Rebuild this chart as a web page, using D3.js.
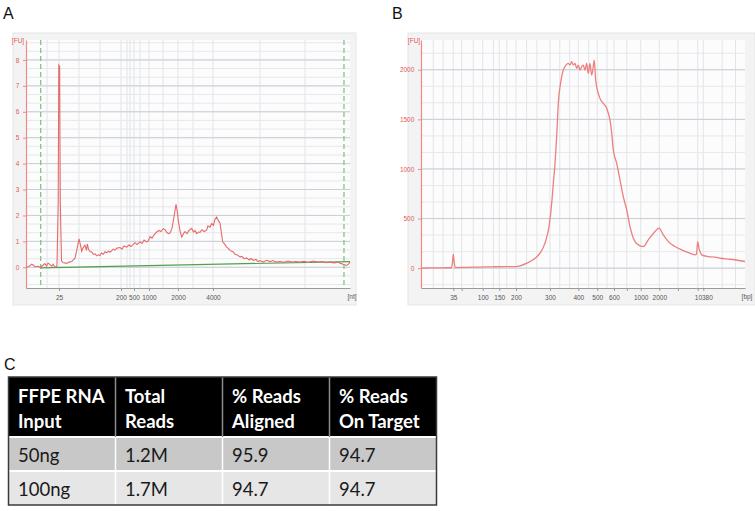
<!DOCTYPE html>
<html><head><meta charset="utf-8">
<script src="https://cdn.jsdelivr.net/npm/d3@7"></script>
<style>body{margin:0;background:#fff}svg{display:block}</style>
</head><body>
<script>
// ---------- Panel A (RNA electropherogram, x = migration time in s) ----------
const aTickLabels = ["25","200","500","1000","2000","4000"];
const aTickTimes  = [24.1, 33.66, 35.67, 37.98, 42.46, 47.86];
const aYTicks = [0,1,2,3,4,5,6,7,8];
const aGridTimes = [22.24, 24.1, 27.18, 30.42, 33.66, 34.59, 35.05, 35.67, 36.59, 37.98, 40.14, 42.46, 44.77, 47.86, 55.11, 62.06];
const aMarkerTimes = [21.27, 68.07];
const aTime = [19.0,19.46,19.88,20.16,20.39,20.85,21.16,21.62,21.93,22.16,22.40,22.70,22.97,23.17,23.48,23.78,23.97,24.06,24.19,24.29,24.48,24.71,25.28,25.64,26.05,26.56,26.87,27.18,27.41,27.60,27.80,28.10,28.33,28.46,28.64,28.88,29.11,29.39,29.65,29.91,30.19,30.42,30.65,30.93,31.19,31.45,31.73,31.96,32.47,32.73,33.04,33.51,33.81,34.12,34.54,34.90,35.20,35.56,35.82,36.13,36.60,36.91,37.22,37.63,37.83,38.14,38.45,38.75,39.17,39.52,39.83,40.19,40.45,40.71,40.99,41.22,41.53,41.84,42.15,42.38,42.50,42.77,43.03,43.31,43.54,43.85,44.15,44.57,44.85,45.08,45.34,45.62,45.85,46.15,46.47,46.88,47.08,47.40,47.66,47.93,48.16,48.42,48.70,48.94,49.17,49.35,49.63,49.97,50.25,50.48,50.99,51.25,51.56,52.03,52.33,52.64,53.06,53.41,53.72,54.08,54.49,54.80,55.11,55.57,56.15,56.65,57.12,57.58,58.20,58.81,59.43,60.05,60.67,61.28,61.90,62.52,63.34,64.07,64.68,65.30,65.92,66.54,67.15,67.46,67.93,68.49,68.77,69.0];
const aFU   = [0.0,0.03,0.12,0.08,0.02,0.04,0.0,0.08,0.14,0.05,0.16,0.1,0.04,0.12,0.0,0.04,2.5,7.8,7.75,2.5,0.25,0.18,0.15,0.2,0.22,0.35,0.7,1.1,0.85,0.62,0.75,0.85,0.65,0.9,0.7,0.6,0.6,0.5,0.52,0.44,0.48,0.45,0.55,0.5,0.6,0.56,0.62,0.58,0.7,0.66,0.74,0.76,0.7,0.82,0.78,0.86,0.8,0.88,0.95,0.88,0.98,0.92,1.05,0.98,1.0,1.18,1.12,1.25,1.36,1.42,1.38,1.49,1.45,1.35,1.3,1.32,1.5,1.95,2.43,2.1,1.8,1.4,1.17,1.3,1.38,1.3,1.42,1.5,1.36,1.42,1.3,1.36,1.35,1.45,1.38,1.43,1.6,1.55,1.69,1.62,1.85,1.94,1.8,1.7,1.3,0.98,0.9,0.78,0.72,0.65,0.59,0.5,0.48,0.4,0.42,0.33,0.36,0.28,0.34,0.27,0.3,0.22,0.26,0.2,0.27,0.22,0.26,0.2,0.22,0.19,0.24,0.2,0.22,0.2,0.23,0.19,0.24,0.2,0.22,0.18,0.2,0.17,0.2,0.16,0.12,0.07,0.12,0.2];
const aBaseTime = [21.3, 69.0];
const aBaseFU   = [-0.02, 0.22];

// ---------- Panel B (DNA library electropherogram) ----------
const bTickLabels = ["35","","100","150","200","300","400","500","600","","1000","2000","","","10380"];
const bTickTimes  = [48.47,50.67,56.19,60.54,64.92,73.84,81.27,86.25,90.63,94.0,97.64,102.52,107.4,112.6,114.06];
const bYTicks = [0,500,1000,1500,2000];
const bTime = [40.0,42.36,44.98,47.08,48.0,48.26,48.47,48.71,48.97,51.54,54.17,56.79,59.41,62.04,64.92,65.97,67.81,69.38,70.43,71.22,72.53,73.58,74.37,74.71,75.15,75.55,75.81,76.02,76.47,76.86,77.33,78.04,78.64,79.09,79.53,79.95,80.40,80.84,81.27,81.71,82.16,82.57,83.02,83.46,83.88,84.33,84.77,85.19,85.46,85.83,86.51,87.41,87.83,88.72,89.14,89.58,90.03,90.45,91.34,92.21,93.07,93.97,94.83,95.70,97.01,98.32,99.63,101.39,102.44,103.57,104.88,106.64,108.39,110.13,111.89,112.27,112.59,112.93,113.20,113.64,115.37,117.13,118.44,121.07,125.0];
const bFU   = [0,2,3,4,6,60,140,60,6,8,10,12,14,15,16,23,50,84,115,151,252,419,688,856,1050,1300,1500,1661,1829,1920,1997,2047,2064,2047,2081,2047,2064,2014,2047,1997,2030,2047,1997,2064,1964,2064,1947,2030,2098,1897,1762,1678,1661,1611,1561,1494,1360,1191,1057,889,721,587,419,302,235,218,285,369,403,335,268,218,184,157,134,140,268,200,167,134,117,111,100,90,67];
const bGridTimes = [43.2,45.8,48.47,50.67,53.7,56.19,59.0,60.54,62.5,64.92,67.7,70.4,73.84,76.4,79.0,81.27,84.0,86.25,88.8,90.63,94.0,97.64,102.52,107.4,112.6,114.06,119.0,122.5];

// ---------- Panel C (table) ----------
const tableHeader = [["FFPE RNA","Input"],["Total","Reads"],["% Reads","Aligned"],["% Reads","On Target"]];
const rnaInput   = ["50ng","100ng"];
const totalReads = ["1.2M","1.7M"];
const pctAligned = ["95.9","94.7"];
const pctOnTarget= ["94.7","94.7"];

const W = 755, H = 511;
const svg = d3.select("body").append("svg").attr("width", W).attr("height", H)
  .style("font-family", "'Liberation Sans', Arial, sans-serif");

function panel(cfg) {
  const g = svg.append("g");
  g.append("rect").attr("x", cfg.box[0]).attr("y", cfg.box[1]).attr("width", cfg.box[2]).attr("height", cfg.box[3])
    .attr("fill", "#f3f3f3").attr("stroke", "#e6e6e6");
  const x = d3.scaleLinear().domain(cfg.xDomain).range([cfg.left, cfg.right]);
  const y = d3.scaleLinear().domain(cfg.yDomain).range([cfg.bottom, cfg.top]);
  g.append("rect").attr("x", cfg.left).attr("y", cfg.top).attr("width", cfg.right - cfg.left).attr("height", cfg.bottom - cfg.top)
    .attr("fill", "#fcfcfc");
  g.selectAll(".vg").data(cfg.vGrid).join("line")
    .attr("x1", d => x(d)).attr("x2", d => x(d)).attr("y1", cfg.top).attr("y2", cfg.bottom)
    .attr("stroke", "#e2e4e8").attr("stroke-width", 1);
  g.selectAll(".hm").data(cfg.minorY).join("line")
    .attr("x1", cfg.left).attr("x2", cfg.right).attr("y1", d => y(d)).attr("y2", d => y(d))
    .attr("stroke", "#e6e8ec").attr("stroke-width", 1);
  g.selectAll(".hM").data(cfg.yTicks).join("line")
    .attr("x1", cfg.left).attr("x2", cfg.right).attr("y1", d => y(d)).attr("y2", d => y(d))
    .attr("stroke", "#c9ced6").attr("stroke-width", 1);
  const xa = g.append("g").attr("transform", `translate(0,${cfg.bottom})`)
    .call(d3.axisBottom(x).tickValues(cfg.xTicks).tickFormat((d, i) => cfg.xLabels[i]).tickSize(3).tickSizeOuter(0));
  xa.select(".domain").attr("stroke", "#9a9a9a");
  xa.selectAll(".tick line").attr("stroke", "#9a9a9a");
  xa.selectAll("text").attr("fill", "#555").attr("font-size", 6.5).attr("dy", "0.9em")
    .attr("font-family", "'Liberation Sans Narrow','Liberation Sans',sans-serif");
  g.append("text").attr("x", cfg.unitX).attr("y", cfg.bottom + 11).attr("text-anchor", "middle")
    .attr("font-size", 6.5).attr("fill", "#555").text(cfg.xUnit);
  const ya = g.append("g").attr("transform", `translate(${cfg.left},0)`)
    .call(d3.axisLeft(y).tickValues(cfg.yTicks).tickFormat(d3.format("d")).tickSize(3).tickSizeOuter(0));
  ya.select(".domain").attr("stroke", "#f08a8a").attr("stroke-width", 1.2);
  ya.selectAll(".tick line").attr("stroke", "#f08a8a");
  ya.selectAll("text").attr("fill", "#e05a5a").attr("font-size", 6.5).attr("dx", "-0.1em")
    .attr("font-family", "'Liberation Sans Narrow','Liberation Sans',sans-serif");
  g.append("text").attr("x", cfg.fuX).attr("y", cfg.top + 3).attr("text-anchor", "middle")
    .attr("font-size", 6.5).attr("fill", "#e05a5a").text("[FU]");
  return {g, x, y};
}

const A = panel({
  box: [13, 33, 343, 272], left: 26, right: 350, top: 40, bottom: 288,
  xDomain: [19, 69], yDomain: [-0.8, 8.77],
  vGrid: aGridTimes, yTicks: aYTicks, minorY: d3.range(-2, 27).map(i => i / 3),
  xTicks: aTickTimes, xLabels: aTickLabels, xUnit: "[nt]", unitX: 352, fuX: 18
});
A.g.selectAll(".mk").data(aMarkerTimes).join("line")
  .attr("x1", d => A.x(d)).attr("x2", d => A.x(d)).attr("y1", 40).attr("y2", 288)
  .attr("stroke", "#7cbf7c").attr("stroke-width", 1.2).attr("stroke-dasharray", "5,3");
A.g.append("path").datum(d3.zip(aBaseTime, aBaseFU))
  .attr("d", d3.line().x(d => A.x(d[0])).y(d => A.y(d[1])))
  .attr("fill", "none").attr("stroke", "#4fa04f").attr("stroke-width", 1.2);
A.g.append("path").datum(d3.zip(aTime, aFU))
  .attr("d", d3.line().x(d => A.x(d[0])).y(d => A.y(d[1])))
  .attr("fill", "none").attr("stroke", "#e66a6a").attr("stroke-width", 1.1);

const B = panel({
  box: [408, 33, 347, 272], left: 421, right: 745, top: 40, bottom: 288,
  xDomain: [40, 125], yDomain: [-200, 2300],
  vGrid: bGridTimes, yTicks: bYTicks,
  minorY: d3.range(-1, 14).map(i => i * 500 / 3),
  xTicks: bTickTimes, xLabels: bTickLabels, xUnit: "[bp]", unitX: 747, fuX: 414
});
B.g.append("path").datum(d3.zip(bTime, bFU))
  .attr("d", d3.line().curve(d3.curveMonotoneX).x(d => B.x(d[0])).y(d => B.y(d[1])))
  .attr("fill", "none").attr("stroke", "#ec7f7f").attr("stroke-width", 1.3);

svg.append("text").attr("x", 3).attr("y", 19).attr("font-size", 16).attr("fill", "#111").text("A");
svg.append("text").attr("x", 392).attr("y", 19).attr("font-size", 16).attr("fill", "#111").text("B");
svg.append("text").attr("x", 4).attr("y", 370).attr("font-size", 16).attr("fill", "#111").text("C");

const colX = d3.scaleBand().domain(d3.range(4)).range([8.5, 436.5]);
const rows = d3.zip(rnaInput, totalReads, pctAligned, pctOnTarget);
const tY = 377, hH = 60, rH = 34;
const tg = svg.append("g").style("font-family", "Lato, 'Open Sans', sans-serif");
tg.append("rect").attr("x", 8.5).attr("y", tY).attr("width", 428).attr("height", hH).attr("fill", "#000");
tg.selectAll(".row").data(rows).join("rect")
  .attr("x", 8.5).attr("y", (d, i) => tY + hH + i * rH).attr("width", 428).attr("height", rH)
  .attr("fill", (d, i) => i === 0 ? "#c8c8c8" : "#e6e6e6");
tg.selectAll(".hs").data([0, 1]).join("line")
  .attr("x1", 8.5).attr("x2", 436.5).attr("y1", d => tY + hH + d * rH).attr("y2", d => tY + hH + d * rH)
  .attr("stroke", "#fff").attr("stroke-width", 2);
tg.selectAll(".vs").data([1, 2, 3]).join("line")
  .attr("x1", d => colX(d)).attr("x2", d => colX(d)).attr("y1", tY).attr("y2", tY + hH)
  .attr("stroke", "#8c8c8c").attr("stroke-width", 1.5);
tg.selectAll(".vs2").data([1, 2, 3]).join("line")
  .attr("x1", d => colX(d)).attr("x2", d => colX(d)).attr("y1", tY + hH).attr("y2", tY + hH + 2 * rH)
  .attr("stroke", "#ffffff").attr("stroke-width", 1.5);
tg.append("rect").attr("x", 8.5).attr("y", tY).attr("width", 428).attr("height", hH + 2 * rH)
  .attr("fill", "none").attr("stroke", "#3a3a3a").attr("stroke-width", 1.5);
tableHeader.forEach((lines, c) => {
  lines.forEach((t, k) => {
    tg.append("text").attr("x", colX(c) + 9.5).attr("y", tY + 26 + k * 25)
      .attr("font-size", 18.5).attr("font-weight", "bold").attr("fill", "#fff").text(t);
  });
});
rows.forEach((r, i) => {
  r.forEach((t, c) => {
    tg.append("text").attr("x", colX(c) + 9.5).attr("y", tY + hH + i * rH + 25)
      .attr("font-size", 18.5).attr("fill", "#1a1a1a").text(t);
  });
});
</script>
</body></html>
